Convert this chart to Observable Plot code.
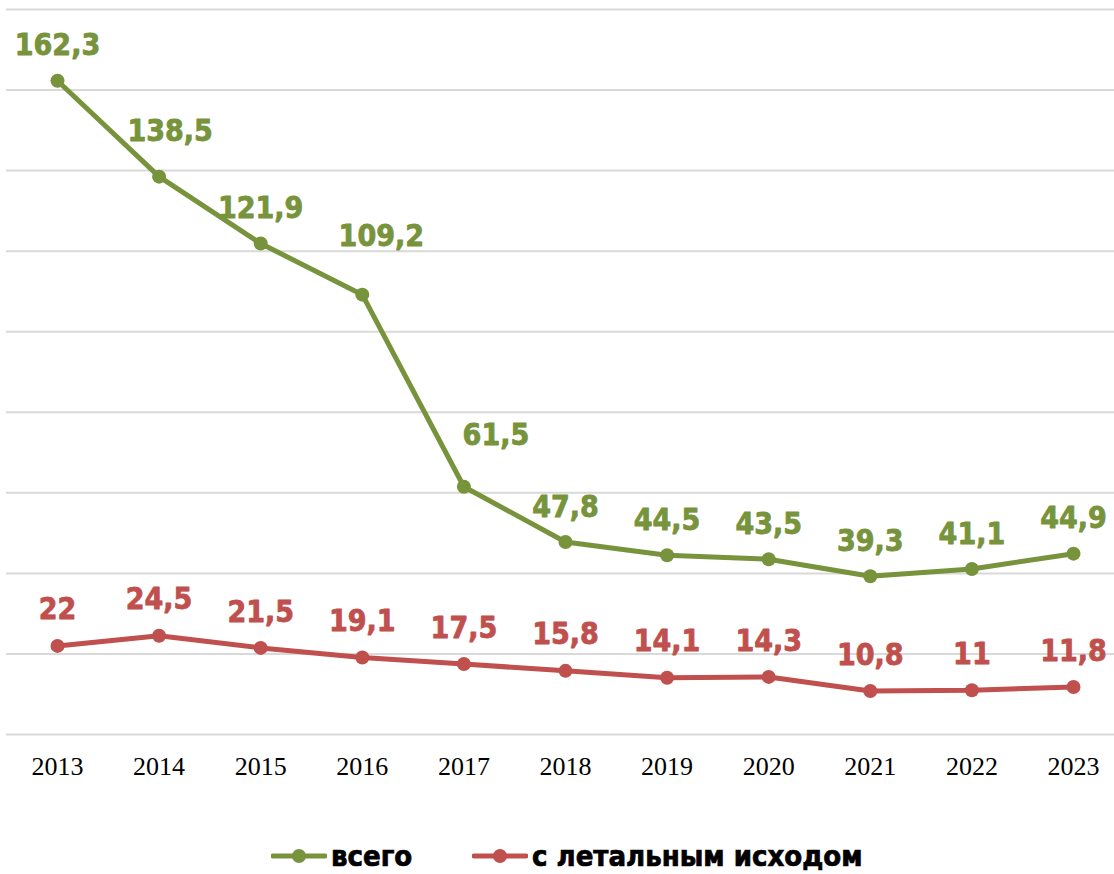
<!DOCTYPE html>
<html>
<head>
<meta charset="utf-8">
<script src="https://cdn.jsdelivr.net/npm/d3@7"></script>
<script src="https://cdn.jsdelivr.net/npm/@observablehq/plot@0.6"></script>
<style>
  html, body { margin: 0; padding: 0; background: #fff; }
  #chart svg { display: block; }
  .legend { position: relative; height: 74px;
    font-family: 'DejaVu Sans Condensed', 'DejaVu Sans', sans-serif; font-weight: bold; font-size: 29px; color: #000;
    -webkit-text-stroke: 0.7px #000; }
  .legend .item { position: absolute; top: 40px; display: flex; align-items: center; height: 32px; line-height: 32px; }
  .legend svg { margin-right: 4px; }
</style>
</head>
<body>
<div id="chart"></div>
<script>
const years = ["2013","2014","2015","2016","2017","2018","2019","2020","2021","2022","2023"];
const total = [162.3, 138.5, 121.9, 109.2, 61.5, 47.8, 44.5, 43.5, 39.3, 41.1, 44.9];
const fatal = [22, 24.5, 21.5, 19.1, 17.5, 15.8, 14.1, 14.3, 10.8, 11, 11.8];
const seriesNames = ["всего", "с летальным исходом"];
const seriesColors = ["#77933C", "#C0504D"];
const gridTicks = [0, 20, 40, 60, 80, 100, 120, 140, 160, 180];

const rows = [];
years.forEach((y, i) => {
  rows.push({year: y, value: total[i], series: seriesNames[0]});
  rows.push({year: y, value: fatal[i], series: seriesNames[1]});
});
const fmt = v => String(v).replace(".", ",");
const green = rows.filter(d => d.series === seriesNames[0]);
const red = rows.filter(d => d.series === seriesNames[1]);
const labelFont = "'DejaVu Sans Condensed', 'DejaVu Sans', sans-serif";
const special = {"2014": [11, -45], "2016": [19, -58], "2017": [32, -51]};
const textOpts = (color) => ({x: "year", y: "value", text: d => fmt(d.value),
  fill: color, stroke: color, strokeWidth: 0.8, fontSize: 30, fontWeight: "bold", fontFamily: labelFont});

const marks = [
  Plot.ruleY(gridTicks, {stroke: "#d9d9d9", strokeWidth: 2}),
  Plot.line(green, {x: "year", y: "value", stroke: seriesColors[0], strokeWidth: 5}),
  Plot.line(red, {x: "year", y: "value", stroke: seriesColors[1], strokeWidth: 5}),
  Plot.dot(green, {x: "year", y: "value", fill: seriesColors[0], r: 7}),
  Plot.dot(red, {x: "year", y: "value", fill: seriesColors[1], r: 7}),
  Plot.text(green.filter(d => !special[d.year]), {...textOpts(seriesColors[0]), dy: -35}),
  Plot.text(red, {...textOpts(seriesColors[1]), dy: -36})
];
for (const [yr, [dx, dy]] of Object.entries(special)) {
  marks.push(Plot.text(green.filter(d => d.year === yr), {...textOpts(seriesColors[0]), dx, dy}));
}
marks.push(Plot.axisX({tickSize: 0, tickPadding: 22, fontSize: 26, fontFamily: "'Liberation Serif', 'Times New Roman', serif", color: "#000"}));

const plot = Plot.plot({
  width: 1114,
  height: 800,
  marginTop: 9,
  marginBottom: 66,
  marginLeft: 6,
  marginRight: 0,
  x: {type: "point", domain: years, range: [57, 1073], padding: 0, round: false, label: null},
  y: {domain: [0, 180], axis: null},
  style: {background: "#fff", overflow: "visible"},
  marks
});
document.getElementById("chart").appendChild(plot);

const legend = document.createElement("div");
legend.className = "legend";
const legendLeft = [271, 472];
seriesNames.forEach((name, i) => {
  const item = document.createElement("div");
  item.className = "item";
  item.style.left = legendLeft[i] + "px";
  const sw = d3.create("svg").attr("width", 56).attr("height", 20);
  sw.append("line").attr("x1", 2).attr("x2", 54).attr("y1", 10).attr("y2", 10)
    .attr("stroke", seriesColors[i]).attr("stroke-width", 5).attr("stroke-linecap", "round");
  sw.append("circle").attr("cx", 28).attr("cy", 10).attr("r", 7).attr("fill", seriesColors[i]);
  item.appendChild(sw.node());
  const t = document.createElement("span");
  t.textContent = name;
  item.appendChild(t);
  legend.appendChild(item);
});
document.body.appendChild(legend);
</script>
</body>
</html>
